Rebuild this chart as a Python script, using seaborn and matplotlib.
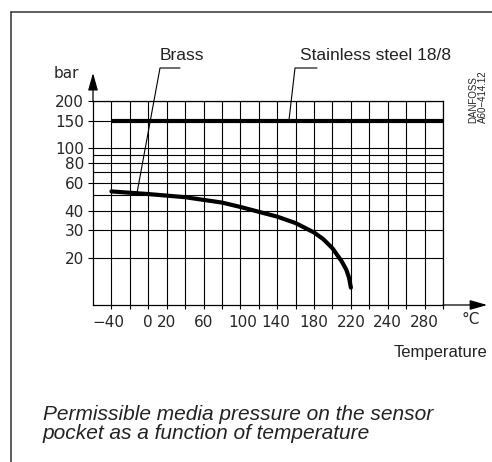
import pandas as pd
import seaborn as sns
import matplotlib.pyplot as plt
from matplotlib.lines import Line2D
from matplotlib.ticker import NullFormatter

# values
brass_temp = [-40, 0, 40, 80, 100, 120, 140, 160, 180, 190, 200, 210, 215, 218, 220]
brass_bar = [53, 51, 48.7, 45, 42.2, 39.3, 36.6, 33.3, 29, 26.3, 23, 19, 16.8, 14.9, 12.9]
steel_temp = [-40, 320]
steel_bar = [150, 150]

grid_temp = list(range(-40, 321, 20))
y_ticks = [20, 30, 40, 60, 80, 100, 150, 200]
y_extra_grid = [50, 70, 90]
x_label_pos = [-43, 0, 20, 60, 103, 138, 180, 220, 260, 300]
x_label_txt = ["\u221240", "0", "20", "60", "100", "140", "180", "220", "240", "280"]

sns.set_style("white")
plt.rcParams["font.family"] = ["DejaVu Sans"]

W, H = 492, 462
fig = plt.figure(figsize=(W / 100, H / 100), dpi=100)
ax = fig.add_axes([93 / W, 1 - 305 / H, 350 / W, 204 / H])


def px(x, y):
    # pixel position (from top-left) -> figure fraction
    return x / W, 1 - y / H


brass = pd.DataFrame({"temp": brass_temp, "bar": brass_bar})
steel = pd.DataFrame({"temp": steel_temp, "bar": steel_bar})
sns.lineplot(data=brass, x="temp", y="bar", ax=ax, color="black", lw=3,
             estimator=None, zorder=5)
sns.lineplot(data=steel, x="temp", y="bar", ax=ax, color="black", lw=3,
             estimator=None, zorder=5, solid_capstyle="butt")

ax.set_yscale("log")
ax.set_xlim(-60, 320)
ax.set_ylim(10, 200)
ax.set_xlabel("")
ax.set_ylabel("")

ax.xaxis.remove_overlapping_locs = False
ax.set_xticks(x_label_pos, x_label_txt)
ax.set_xticks(grid_temp, minor=True)
ax.set_yticks(y_ticks, [str(v) for v in y_ticks])
ax.set_yticks(y_extra_grid, minor=True)
ax.yaxis.set_minor_formatter(NullFormatter())

ax.tick_params(axis="x", which="major", length=0, pad=7.5, labelsize=11)
ax.tick_params(axis="x", which="minor", length=3.2, width=0.8, direction="out",
               color="black", bottom=True)
ax.tick_params(axis="y", which="major", length=3.6, width=0.8, direction="out",
               color="black", pad=3, labelsize=11, left=True)
ax.tick_params(axis="y", which="minor", length=0)

ax.xaxis.grid(True, which="minor", color="black", lw=0.8)
ax.xaxis.grid(False, which="major")
ax.yaxis.grid(True, which="both", color="black", lw=0.8)
for s in ax.spines.values():
    s.set_visible(True)
    s.set_color("black")
    s.set_linewidth(0.9)

arrow = dict(arrowstyle="-|>,head_length=0.7,head_width=0.2", color="black",
             lw=0.9, mutation_scale=15, shrinkA=0, shrinkB=0)
ax.annotate("", xy=(1.126, 0), xytext=(1.0, 0), xycoords="axes fraction",
            arrowprops=arrow, annotation_clip=False)
ax.annotate("", xy=(0, 1.137), xytext=(0, 1.0), xycoords="axes fraction",
            arrowprops=arrow, annotation_clip=False)

# drawing frame
fig.add_artist(Line2D([px(11, 12)[0], px(492, 12)[0]], [px(11, 12)[1]] * 2,
                      color="#333333", lw=1.1))
fig.add_artist(Line2D([px(11, 12)[0]] * 2, [px(11, 12)[1], px(11, 462)[1]],
                      color="#333333", lw=1.1))

# leader lines
for pts in ([(180, 68), (160, 68), (137, 193)],
            [(317, 68), (295, 68), (289, 120)]):
    xs = [px(*p)[0] for p in pts]
    ys = [px(*p)[1] for p in pts]
    fig.add_artist(Line2D(xs, ys, color="black", lw=0.8))

helv = ["Liberation Sans", "DejaVu Sans"]
fig.text(*px(182, 55), "Brass", family=helv, fontsize=12.5, ha="center",
         va="center", color="#222222")
fig.text(*px(375, 55), "Stainless steel 18/8", family=helv, fontsize=12.5,
         ha="center", va="center", color="#222222")
fig.text(*px(66, 74), "bar", fontsize=11, ha="center", va="center")
fig.text(*px(471, 319), "\u00b0C", fontsize=11, ha="center", va="center")
fig.text(*px(440, 352), "Temperature", family=helv, fontsize=12, ha="center",
         va="center", color="#222222")
fig.text(*px(43, 424), "Permissible media pressure on the sensor\n"
         "pocket as a function of temperature", family=helv, fontsize=15,
         style="italic", ha="left", va="center", linespacing=1.0,
         color="#222222")
fig.text(*px(478, 123), "DANFOSS\nA60\u2212414.12",
         family=["Liberation Sans Narrow", "Liberation Sans", "DejaVu Sans"],
         fontsize=7, rotation=90, ha="center", va="bottom", linespacing=1.0,
         multialignment="left")

fig.savefig("out.png", dpi=100)
